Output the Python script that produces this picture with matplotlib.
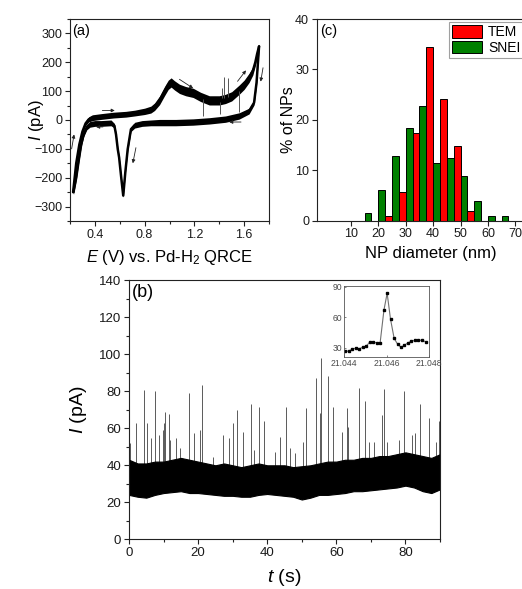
import numpy as np
import matplotlib
matplotlib.use("Agg")
import matplotlib.pyplot as plt
from matplotlib.ticker import MultipleLocator

plt.rcParams['font.family'] = ['Liberation Sans', 'DejaVu Sans']
plt.rcParams['mathtext.fontset'] = 'custom'
plt.rcParams['mathtext.rm'] = 'Liberation Sans'
plt.rcParams['mathtext.it'] = 'Liberation Sans:italic'

# ---------------- Panel (a): cyclic voltammogram ----------------
E_fwd = [0.225, 0.25, 0.275, 0.30, 0.325, 0.35, 0.38, 0.45, 0.55, 0.65, 0.72, 0.80, 0.85,
         0.88, 0.92, 0.96, 0.99, 1.013, 1.04, 1.08, 1.13, 1.19, 1.25, 1.32, 1.40, 1.45,
         1.50, 1.56, 1.60, 1.64, 1.67, 1.69, 1.705, 1.72]
I_fwd = [-250, -150, -85, -40, -12, 2, 8, 12, 17, 20, 24, 30, 36,
         46, 68, 100, 122, 130, 120, 108, 100, 94, 80, 68, 68, 73,
         82, 105, 122, 146, 170, 200, 230, 255]
W_fwd = [8, 8, 8, 8, 8, 9, 10, 10, 10, 10, 10, 11, 12,
         13, 15, 16, 16, 16, 16, 16, 16, 16, 16, 16, 16, 16,
         16, 16, 16, 16, 14, 12, 10, 8]

E_rev = [0.228, 0.25, 0.27, 0.29, 0.31, 0.335, 0.36, 0.40, 0.45, 0.53, 0.557, 0.57, 0.584,
         0.595, 0.612, 0.628, 0.645, 0.664, 0.69, 0.72, 0.78, 0.85, 0.92, 1.05, 1.19,
         1.32, 1.45, 1.56, 1.64, 1.68, 1.70, 1.72]
I_rev = [-250, -200, -140, -85, -50, -25, -15, -12, -12, -10, -20, -50, -101,
         -130, -200, -262, -180, -101, -32, -18, -12, -10, -9, -9, -7,
         -3, 3, 14, 31, 60, 130, 255]
W_rev = [8, 8, 8, 8, 8, 9, 10, 10, 10, 10, 8, 6, 6,
         6, 6, 6, 6, 6, 8, 10, 10, 10, 11, 11, 11,
         11, 11, 11, 10, 8, 8, 8]

cv_spike_E = [1.27, 1.405, 1.42, 1.44, 1.47, 1.555]
cv_spike_from = [72, 62, 75, 75, 78, 100]
cv_spike_to = [15, 20, 110, 150, 145, 28]

# arrows: (E_tail, I_tail, E_head, I_head)
cv_arrows = [(0.213, -100, 0.233, -50),
             (0.46, 33, 0.56, 33),
             (0.465, -24, 0.41, -24),
             (0.73, -96, 0.705, -150),
             (1.08, 141, 1.19, 110),
             (1.547, 134, 1.615, 172),
             (1.752, 181, 1.733, 133),
             (1.575, -7, 1.48, -7)]

# ---------------- Panel (c): histogram ----------------
bin_left = [15, 20, 25, 30, 35, 40, 45, 50, 55, 60, 65, 70]
snei_pct = [1.5, 6.0, 12.9, 18.3, 22.8, 11.4, 12.4, 8.9, 4.0, 1.0, 1.0, 0.0]
tem_pct = [0.0, 0.9, 5.6, 17.3, 34.5, 24.1, 14.8, 1.85, 0.0, 0.0, 0.0, 0.0]

# ---------------- Panel (b): current-time trace ----------------
band_t = [0, 2.5, 5, 7.5, 10, 12.5, 15, 17.5, 20, 22.5, 25, 27.5, 30, 32.5, 35, 37.5, 40,
          42.5, 45, 47.5, 50, 52.5, 55, 57.5, 60, 62.5, 65, 67.5, 70, 72.5, 75, 77.5, 80,
          82.5, 85, 87.5, 90]
band_hi = [43, 41, 41, 42, 42, 43, 44, 43, 42, 41, 40, 41, 40, 39, 40, 41, 40,
           40, 40, 39, 39.5, 40, 41, 42, 42, 43, 43, 44, 44, 45, 45, 46, 47,
           46, 45, 44, 46]
band_lo = [24, 23, 22.5, 24, 25, 25.5, 26, 25, 25, 24.5, 24, 23.5, 23.5, 23, 23, 24, 24.5,
           24, 23.5, 23, 21.5, 22.5, 24, 24, 24.5, 25, 26, 26, 26.5, 27, 27.5, 28, 29,
           28, 26, 25, 27]

spike_t = [0.3, 1.9, 4.35, 5.1, 6.5, 7.4, 8.7, 9.7, 10.0, 10.5, 11.5, 11.9, 13.7, 14.8,
           17.5, 18.9, 20.6, 21.1, 24.4, 27.1, 28.9, 30.0, 31.2, 33.1, 35.4, 36.3,
           37.6, 39.0, 42.3, 43.6, 45.4, 46.7, 47.9, 50.3, 51.2, 54.1, 55.2, 55.7,
           57.5, 58.9, 61.7, 63.1, 63.5, 66.7, 68.4, 69.4, 70.8, 73.2, 73.9, 74.7,
           78.1, 79.7, 81.9, 82.9, 84.3, 86.8, 88.7, 89.8]
spike_h = [52, 63, 80.7, 62.7, 54.6, 79.9, 56.4, 59.1, 62.7, 68.6, 67.7, 53.7, 54.6, 49.2,
           79.0, 57.3, 59.1, 83.4, 44.7, 56.4, 54.6, 63.0, 69.9, 58.2, 73.2, 48.3,
           71.3, 64.1, 47.4, 55.5, 71.3, 49.2, 46.5, 52.8, 70.8, 87.4, 68.1, 98.2,
           88.3, 71.3, 58.2, 70.8, 60.9, 81.6, 74.9, 52.8, 52.8, 67.2, 81.2, 52.8,
           53.7, 79.9, 56.4, 57.3, 73.2, 65.4, 52.8, 63.8]

inset_t = [21.04406, 21.04422, 21.04439, 21.04456, 21.04472, 21.04489, 21.04505, 21.04522,
           21.04538, 21.04555, 21.04570, 21.04588, 21.04603, 21.04619, 21.04636, 21.04652,
           21.04669, 21.04684, 21.04702, 21.04717, 21.04734, 21.04750, 21.04767, 21.04784]
inset_i = [26.7, 26.7, 28.7, 29.7, 29.0, 30.7, 31.6, 35.9,
           35.9, 34.6, 34.9, 67.0, 83.4, 57.9, 39.2, 33.6,
           30.3, 32.6, 34.9, 36.6, 37.2, 37.2, 37.5, 35.9]

W, H = 522, 589
fig = plt.figure(figsize=(W / 100, H / 100), dpi=100)


def rect(l, t, r, b):
    return [l / W, 1 - b / H, (r - l) / W, (b - t) / H]


def style(ax, fs):
    for s in ax.spines.values():
        s.set_linewidth(0.8)
        s.set_color('#222222')
    ax.tick_params(which='both', direction='out', top=False, right=False,
                   labelsize=fs, width=0.8, colors='#222222', labelcolor='#1a1a1a')
    ax.tick_params(which='major', length=3.5, pad=2)
    ax.tick_params(which='minor', length=2)


# ---- panel (a)
axa = fig.add_axes(rect(70, 19, 269, 221))
E_fwd_a = np.array(E_fwd); I_fwd_a = np.array(I_fwd); W_fwd_a = np.array(W_fwd)
E_rev_a = np.array(E_rev); I_rev_a = np.array(I_rev); W_rev_a = np.array(W_rev)
axa.fill_between(E_fwd_a, I_fwd_a - W_fwd_a, I_fwd_a + W_fwd_a, color='k', lw=0)
axa.plot(E_fwd_a, I_fwd_a, color='k', lw=1.8, solid_capstyle='round')
axa.fill_between(E_rev_a, I_rev_a - W_rev_a, I_rev_a + W_rev_a, color='k', lw=0)
axa.plot(E_rev_a, I_rev_a, color='k', lw=1.8, solid_capstyle='round')
axa.vlines(cv_spike_E, cv_spike_from, cv_spike_to, color='#555555', lw=0.7)
for (x0, y0, x1, y1) in cv_arrows:
    axa.annotate('', xy=(x1, y1), xytext=(x0, y0),
                 arrowprops=dict(arrowstyle='-|>', lw=0.6, color='#222222',
                                 mutation_scale=5, shrinkA=0, shrinkB=0))
axa.set_xlim(0.2, 1.8)
axa.set_ylim(-350, 350)
axa.xaxis.set_major_locator(MultipleLocator(0.4))
axa.xaxis.set_minor_locator(MultipleLocator(0.2))
axa.yaxis.set_major_locator(MultipleLocator(100))
axa.yaxis.set_minor_locator(MultipleLocator(50))
axa.set_xticks([0.4, 0.8, 1.2, 1.6])
axa.set_yticks([-300, -200, -100, 0, 100, 200, 300])
style(axa, 9)
axa.set_xlabel(r'$\it{E}$ (V) vs. Pd-H$_2$ QRCE', fontsize=12, labelpad=5)
axa.set_ylabel(r'$\it{I}$ (pA)', fontsize=12)
axa.yaxis.set_label_coords(-0.12, 0.5)
axa.text(0.012, 0.975, '(a)', transform=axa.transAxes, fontsize=10.5, va='top', ha='left')

# ---- panel (c)
axc = fig.add_axes(rect(316.7, 19, 529, 220.7))
bl = np.array(bin_left, dtype=float)
axc.bar(bl + 1.25, snei_pct, width=2.5, color='#008000', edgecolor='k', lw=0.7, label='SNEI', zorder=2)
axc.bar(bl + 3.75, tem_pct, width=2.5, color='#FF0000', edgecolor='k', lw=0.7, label='TEM', zorder=2)
axc.set_xlim(-2.5, 75)
axc.set_ylim(0, 40)
axc.set_xticks([10, 20, 30, 40, 50, 60, 70])
axc.set_yticks([0, 10, 20, 30, 40])
style(axc, 9)
axc.set_xlabel('NP diameter (nm)', fontsize=12)
axc.xaxis.set_label_coords(0.536, -0.125)
axc.set_ylabel('% of NPs', fontsize=11.5)
axc.yaxis.set_label_coords(-0.098, 0.5)
axc.text(0.015, 0.975, '(c)', transform=axc.transAxes, fontsize=10.5, va='top', ha='left')
h, l = axc.get_legend_handles_labels()
leg = axc.legend([h[1], h[0]], [l[1], l[0]], loc='upper left',
                 bbox_to_anchor=(449 / W, 1 - 22.5 / H), bbox_transform=fig.transFigure,
                 fontsize=10, frameon=True, fancybox=False, edgecolor='#888888',
                 handlelength=2.2, handleheight=1.0, handletextpad=0.4,
                 labelspacing=0.12, borderpad=0.2, borderaxespad=0)
leg.get_frame().set_linewidth(0.8)

# ---- panel (b)
axb = fig.add_axes(rect(129, 280.3, 440, 539.3))
axb.vlines(spike_t, 35, spike_h, color='#5a5a5a', lw=0.7, zorder=1)
axb.fill_between(band_t, band_lo, band_hi, color='k', lw=0.8, edgecolor='k', zorder=2)
axb.set_xlim(0, 90)
axb.set_ylim(0, 140)
axb.xaxis.set_major_locator(MultipleLocator(20))
axb.xaxis.set_minor_locator(MultipleLocator(10))
axb.yaxis.set_major_locator(MultipleLocator(20))
axb.yaxis.set_minor_locator(MultipleLocator(10))
style(axb, 9.5)
axb.set_xlabel(r'$\it{t}$ (s)', fontsize=14, labelpad=6)
axb.set_ylabel(r'$\it{I}$ (pA)', fontsize=14)
axb.yaxis.set_label_coords(-0.128, 0.5)
axb.text(0.008, 0.985, '(b)', transform=axb.transAxes, fontsize=13, va='top', ha='left')

# ---- inset
axi = fig.add_axes(rect(344, 286, 429, 357))
axi.plot(inset_t, inset_i, color='#707070', lw=0.8, zorder=1)
axi.plot(inset_t, inset_i, ls='none', marker='s', ms=2.0, color='k', zorder=2)
axi.set_xlim(21.044, 21.048)
axi.set_ylim(21, 90.5)
axi.set_xticks([21.044, 21.046, 21.048])
axi.set_xticklabels(['21.044', '21.046', '21.048'])
axi.set_yticks([30, 60, 90])
for s in axi.spines.values():
    s.set_linewidth(0.6)
    s.set_color('#555555')
axi.tick_params(direction='in', length=1.5, width=0.5, labelsize=6.2, pad=1.5,
                colors='#555555', labelcolor='#4a4a4a')

fig.savefig('out.png', dpi=100)
